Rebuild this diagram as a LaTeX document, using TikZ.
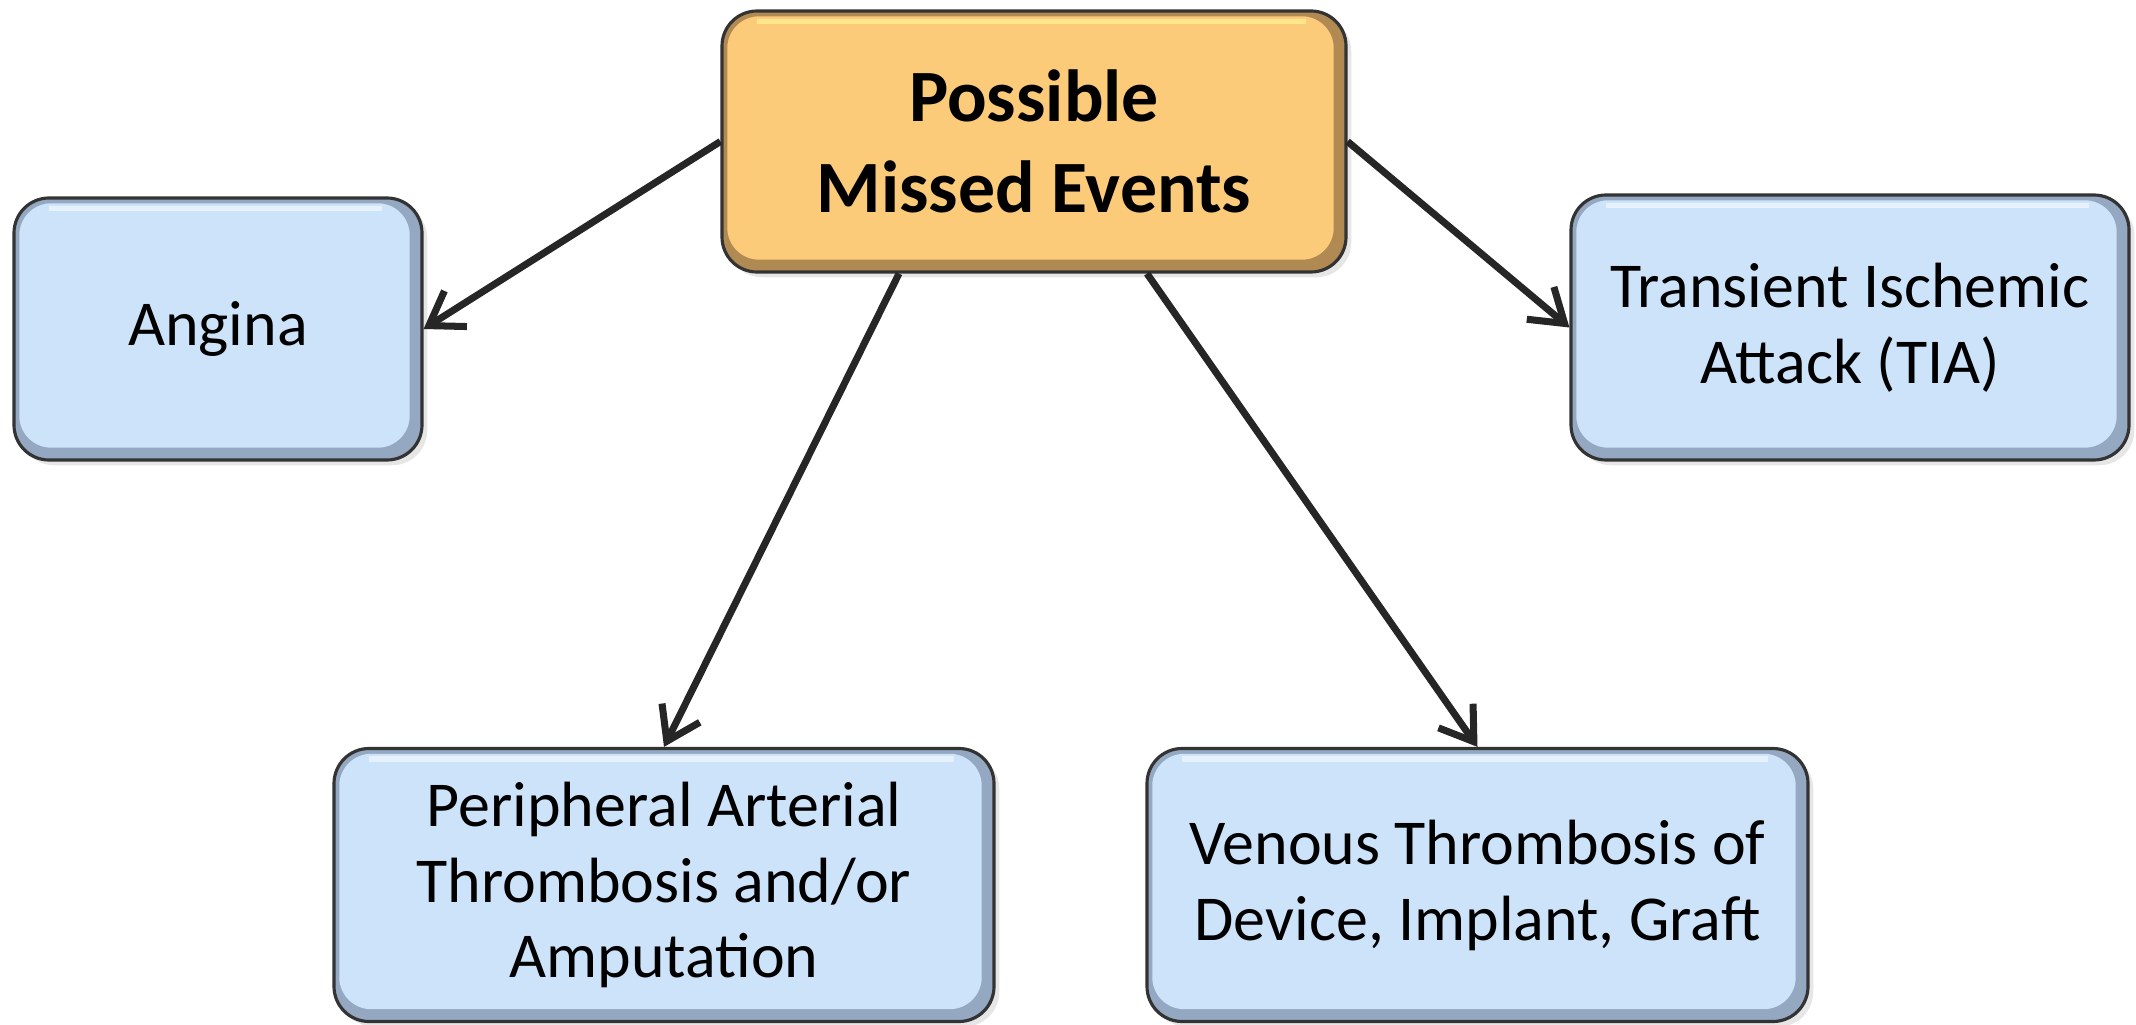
\documentclass[tikz,border=0pt]{standalone}
\usepackage{fontspec}
\setmainfont{Carlito}
\usetikzlibrary{arrows.meta,shadows}
\definecolor{eventorange}{HTML}{FCCB7A}
\definecolor{eventorangedark}{HTML}{B08A52}
\definecolor{eventblue}{HTML}{CDE3FA}
\definecolor{eventbluedark}{HTML}{94A8C2}
\definecolor{arrowgray}{HTML}{262626}
\begin{document}
\begin{tikzpicture}
[event/.style={draw=black!80, line width=0.9pt, rounded corners=0.35cm, align=center, inner sep=0pt,
   drop shadow={opacity=0.2, shadow xshift=1.5pt, shadow yshift=-1.5pt}},
 bluebox/.style={event, fill=eventbluedark, font=\fontsize{18.2}{21.6}\selectfont,
   path picture={\fill[eventblue, rounded corners=0.32cm] ([shift={(1.5pt,-1.5pt)}]path picture bounding box.north west) rectangle ([shift={(-3.5pt,3.5pt)}]path picture bounding box.south east);
     \draw[white, opacity=0.5, line width=1.5pt] ([shift={(0.35cm,-3pt)}]path picture bounding box.north west) -- ([shift={(-0.4cm,-3pt)}]path picture bounding box.north east);}},
 orangebox/.style={event, fill=eventorangedark, font=\bfseries\fontsize{21}{26}\selectfont,
   path picture={\fill[eventorange, rounded corners=0.32cm] ([shift={(1.5pt,-1.5pt)}]path picture bounding box.north west) rectangle ([shift={(-3.5pt,3.5pt)}]path picture bounding box.south east);
     \draw[yellow!40, opacity=0.6, line width=1.5pt] ([shift={(0.35cm,-3pt)}]path picture bounding box.north west) -- ([shift={(-0.4cm,-3pt)}]path picture bounding box.north east);}},
 link/.style={draw=arrowgray, line width=2pt, -{Straight Barb[length=9pt,width=12pt]}}]
\useasboundingbox (0,0) rectangle (21.36,10.24);
\node[bluebox, minimum width=4.08cm, minimum height=2.62cm] (angina) at (2.18,6.95) {Angina};
\node[bluebox, minimum width=5.58cm, minimum height=2.65cm] (tia) at (18.50,6.965) {Transient Ischemic\\Attack (TIA)};
\node[bluebox, minimum width=6.60cm, minimum height=2.73cm] (arterial) at (6.64,1.39) {Peripheral Arterial\\Thrombosis and/or\\Amputation};
\node[bluebox, minimum width=6.61cm, minimum height=2.73cm] (venous) at (14.775,1.39) {Venous Thrombosis of\\Device, Implant, Graft};
\node[orangebox, minimum width=6.24cm, minimum height=2.61cm] (missed) at (10.34,8.825) {Possible\\Missed Events};
\draw[link] (missed.west) -- (angina.east);
\draw[link] (missed.east) -- (tia.west);
\draw[link] ([xshift=-1.35cm]missed.south) -- (arterial.north);
\draw[link] ([xshift=1.13cm]missed.south) -- (venous.north);
\end{tikzpicture}
\end{document}
